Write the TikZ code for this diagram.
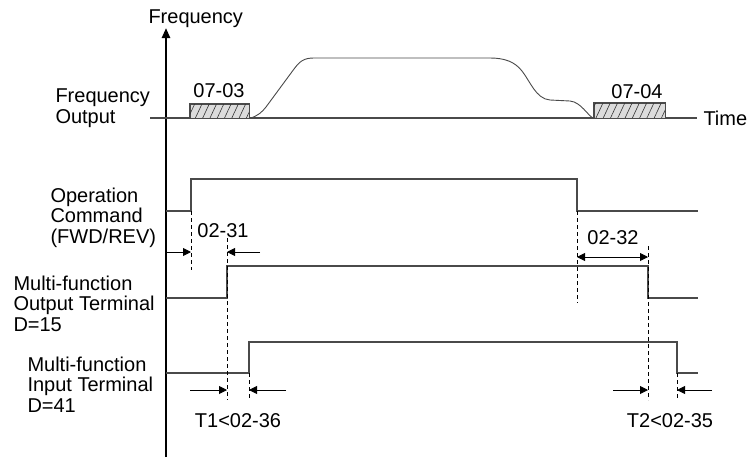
\documentclass[tikz,border=0pt]{standalone}
\usepackage{fontspec}
\setmainfont{Liberation Sans}
\usetikzlibrary{arrows.meta, positioning, patterns.meta}
\definecolor{csig}{HTML}{4A4A4A}
\definecolor{chatch}{HTML}{DCDCDC}
\tikzset{
  every picture/.style={x=1pt, y=-1pt, line width=1pt},
  signal/.style={draw=csig, line width=1.1pt},
  guide/.style={draw=black, line width=0.8pt, dash pattern=on 4pt off 3pt},
  dimarrow/.style={-{Triangle[length=8pt, width=8pt]}, draw=black, line width=0.9pt},
  hatchbox/.style={draw=csig, line width=0.8pt, fill=chatch},
  sigtext/.style={font=\fontsize{20}{20.5}\selectfont, inner sep=0pt, align=left, anchor=base west},
  numtext/.style={font=\fontsize{20}{20}\selectfont, inner sep=0pt, anchor=base},
}

\begin{document}
\begin{tikzpicture}
  \useasboundingbox (0,0) rectangle (747,459);
  % axis and labels
  \coordinate (axbot) at (166,457);
  \coordinate (axtop) at (166,28);
  \draw[-{Triangle[length=10pt, width=8pt]}, line width=2.4pt] (axbot) -- (axtop);
  \node[sigtext] (freqtop) at (148,23) {Frequency};
  \node[sigtext] (freqlbl) at (55,123) {Frequency\\Output};
  \node[sigtext] (cmdlbl) at (50,243) {Operation\\Command\\(FWD/REV)};
  \node[sigtext] (outlbl) at (13,331) {Multi-function\\Output Terminal\\D=15};
  \node[sigtext] (inlbl) at (27,412) {Multi-function\\Input Terminal\\D=41};
  % frequency output
  \coordinate (fstart) at (150,118);
  \coordinate (fend) at (697,118);
  \draw[signal] (fstart) -- (fend);
  \node[sigtext] (time) at (703,125) {Time};
  \node[hatchbox, inner sep=0pt, minimum width=59pt, minimum height=14pt] (dcbrake) at (219.5,111) {};
  \node[hatchbox, inner sep=0pt, minimum width=71pt, minimum height=15pt] (dcstop) at (629.5,110.5) {};
  \path[pattern={Lines[angle=65, distance=6.6pt, line width=0.6pt]}, pattern color=black!80]
    (dcbrake.south west) rectangle (dcbrake.north east)
    (dcstop.south west) rectangle (dcstop.north east);
  \draw[hatchbox, fill=none] (dcbrake.south west) rectangle (dcbrake.north east);
  \draw[hatchbox, fill=none] (dcstop.south west) rectangle (dcstop.north east);
  \node[numtext] (p0703) at (219,97) {07-03};
  \node[numtext] (p0704) at (637,98) {07-04};
  \draw[signal, line width=0.9pt] (dcbrake.south east)
    .. controls (258,116) and (262,112) .. (266,107) -- (294,69)
    .. controls (300,61) and (304,58) .. (314,58) -- (490,58)
    .. controls (505,58) and (515,62) .. (522,71)
    .. controls (530,81) and (536,99) .. (550,100) -- (570,101)
    .. controls (581,102) and (588,116) .. (dcstop.south west);
  % operation command
  \coordinate (cmdon) at (191,211);
  \coordinate (cmdoff) at (577,211);
  \draw[signal] (166,211) -- (cmdon) -- (191,179) -- (577,179) -- (cmdoff) -- (698,211);
  % output terminal
  \coordinate (outon) at (227,298);
  \coordinate (outoff) at (648,298);
  \draw[signal] (166,298) -- (outon) -- (227,266) -- (648,266) -- (outoff) -- (698,298);
  % input terminal
  \coordinate (inon) at (249,373);
  \coordinate (inoff) at (677,373);
  \draw[signal] (166,373) -- (inon) -- (249,342) -- (677,342) -- (inoff) -- (698,373);
  % guides
  \draw[guide] (cmdon) -- ++(0,59);
  \draw[guide] (outon) ++(0,-60) -- (227,400);
  \draw[guide] (inon) -- ++(0,26);
  \draw[guide] (cmdoff) -- ++(0,92);
  \draw[guide] (outoff) ++(0,-52) -- (648,400);
  \draw[guide] (inoff) -- ++(0,27);
  % delay arrows
  \draw[dimarrow] (166,252) -- (191,252);
  \draw[dimarrow] (260,252) -- (227,252);
  \node[numtext] (p0231) at (223,237) {02-31};
  \draw[dimarrow, {Triangle[length=8pt, width=8pt]}-{Triangle[length=8pt, width=8pt]}] (577,257) -- (648,257);
  \node[numtext] (p0232) at (613,244) {02-32};
  \draw[dimarrow] (190,390) -- (227,390);
  \draw[dimarrow] (286,390) -- (249,390);
  \node[numtext] (t1) at (238,427) {T1<02-36};
  \draw[dimarrow] (613,390) -- (648,390);
  \draw[dimarrow] (712,390) -- (677,390);
  \node[numtext] (t2) at (670,427) {T2<02-35};
\end{tikzpicture}
\end{document}
